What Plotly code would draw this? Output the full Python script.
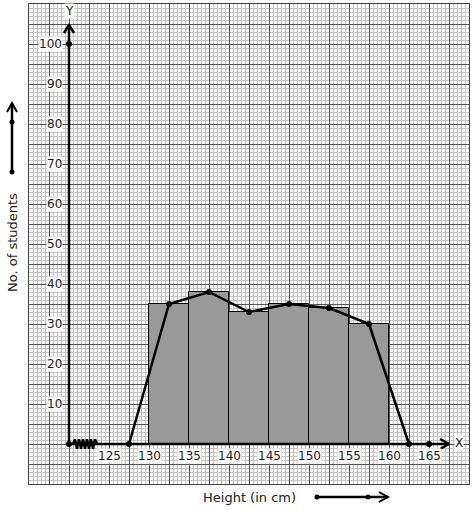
import plotly.graph_objects as go

# Data
class_mid = [132.5, 137.5, 142.5, 147.5, 152.5, 157.5]
students = [35, 38, 33, 35, 34, 30]
poly_x = [127.5, 132.5, 137.5, 142.5, 147.5, 152.5, 157.5, 162.5]
poly_y = [0, 35, 38, 33, 35, 34, 30, 0]
x_ticks = [125, 130, 135, 140, 145, 150, 155, 160, 165]
y_ticks = [10, 20, 30, 40, 50, 60, 70, 80, 90, 100]
class_width = 5

FONT = "DejaVu Sans"
TXT = "#1a1a1a"
fig = go.Figure()

# histogram bars
fig.add_trace(go.Bar(x=class_mid, y=students, width=class_width,
                     marker=dict(color="#999999", line=dict(color="black", width=1)),
                     hoverinfo="skip", showlegend=False))

# axes lines (broken x-axis with zigzag)
fig.add_trace(go.Scatter(x=[120, 120], y=[0, 104.75], mode="lines",
                         line=dict(color="black", width=2.5), showlegend=False, hoverinfo="skip"))
fig.add_trace(go.Scatter(x=[120, 167.5], y=[0, 0], mode="lines",
                         line=dict(color="black", width=2.5), showlegend=False, hoverinfo="skip"))
zx = [120.5 + 0.25 * i for i in range(13)]
zy = [0 if i in (0, 12) else (1.2 if i % 2 else -1.2) for i in range(13)]
fig.add_trace(go.Scatter(x=zx, y=zy, mode="lines",
                         line=dict(color="black", width=2.5), showlegend=False, hoverinfo="skip"))
# arrowheads
fig.add_trace(go.Scatter(x=[119.375, 120, 120.625], y=[102.75, 104.75, 102.75], mode="lines",
                         line=dict(color="black", width=2.5), showlegend=False, hoverinfo="skip"))
fig.add_trace(go.Scatter(x=[166.4, 167.5, 166.4], y=[1.25, 0, -1.25], mode="lines",
                         line=dict(color="black", width=2.5), showlegend=False, hoverinfo="skip"))
# axis dots
fig.add_trace(go.Scatter(x=[120, 120, 165], y=[0, 100, 0], mode="markers",
                         marker=dict(color="black", size=6), showlegend=False, hoverinfo="skip"))

# frequency polygon
fig.add_trace(go.Scatter(x=poly_x, y=poly_y, mode="lines+markers",
                         line=dict(color="black", width=2.5),
                         marker=dict(color="black", size=6), showlegend=False, hoverinfo="skip"))

def py(p):
    return (484 - p) / 480
def px(p):
    return (p - 29) / 440

annotations = []
for v in y_ticks:
    annotations.append(dict(x=119.25, y=v, xref="x", yref="y", text=str(v), showarrow=False,
                            xanchor="right", yanchor="middle", bgcolor="white", borderpad=0,
                            font=dict(family=FONT, size=12, color=TXT)))
for v in x_ticks:
    annotations.append(dict(x=v, y=-3, xref="x", yref="y", text=str(v), showarrow=False,
                            xanchor="center", yanchor="middle", bgcolor="white", borderpad=0,
                            font=dict(family=FONT, size=12, color=TXT)))
annotations.append(dict(x=120.1, y=108.25, xref="x", yref="y", text="Y", showarrow=False,
                        bgcolor="white", borderpad=0, font=dict(family=FONT, size=12, color=TXT)))
annotations.append(dict(x=168.7, y=0.25, xref="x", yref="y", text="X", showarrow=False,
                        bgcolor="white", borderpad=0, font=dict(family=FONT, size=12, color=TXT)))
annotations.append(dict(x=px(12), y=py(243), xref="paper", yref="paper", text="No. of students",
                        textangle=-90, showarrow=False, xanchor="center", yanchor="middle",
                        font=dict(family=FONT, size=13, color=TXT)))
annotations.append(dict(x=px(249), y=py(497), xref="paper", yref="paper", text="Height (in cm)",
                        showarrow=False, xanchor="center", yanchor="middle",
                        font=dict(family=FONT, size=13, color=TXT)))

shapes = []
lx = px(12)
# left side arrow
shapes.append(dict(type="line", xref="paper", yref="paper", x0=lx, x1=lx, y0=py(172), y1=py(104),
                   line=dict(color="black", width=2.5)))
shapes.append(dict(type="path", xref="paper", yref="paper",
                   path=f"M {px(7)},{py(112)} L {lx},{py(103)} L {px(17)},{py(112)}",
                   line=dict(color="black", width=2)))
for yy in (172, 122):
    shapes.append(dict(type="circle", xref="paper", yref="paper",
                       x0=px(9.5), x1=px(14.5), y0=py(yy + 2.5), y1=py(yy - 2.5),
                       fillcolor="black", line=dict(color="black", width=0)))
# bottom arrow
by = py(497)
shapes.append(dict(type="line", xref="paper", yref="paper", x0=px(317), x1=px(388), y0=by, y1=by,
                   line=dict(color="black", width=2.5)))
shapes.append(dict(type="path", xref="paper", yref="paper",
                   path=f"M {px(379)},{py(492)} L {px(388)},{by} L {px(379)},{py(502)}",
                   line=dict(color="black", width=2)))
for xx in (317, 368):
    shapes.append(dict(type="circle", xref="paper", yref="paper",
                       x0=px(xx - 2.5), x1=px(xx + 2.5), y0=py(499.5), y1=py(494.5),
                       fillcolor="black", line=dict(color="black", width=0)))

fig.update_layout(
    width=474, height=510,
    margin=dict(l=29, r=5, t=4, b=26),
    paper_bgcolor="white", plot_bgcolor="white",
    bargap=0,
    annotations=annotations, shapes=shapes,
    xaxis=dict(range=[115, 170], tick0=115, dtick=2.5, showgrid=True, gridcolor="#555555", gridwidth=1,
               minor=dict(dtick=0.5, tick0=115, showgrid=True, gridcolor="#c4c4c4", gridwidth=1),
               showticklabels=False, ticks="", zeroline=False,
               showline=True, linecolor="#444444", linewidth=1, mirror=True, fixedrange=True),
    yaxis=dict(range=[-10, 110], tick0=-10, dtick=5, showgrid=True, gridcolor="#555555", gridwidth=1,
               minor=dict(dtick=1, tick0=-10, showgrid=True, gridcolor="#c4c4c4", gridwidth=1),
               showticklabels=False, ticks="", zeroline=False,
               showline=True, linecolor="#444444", linewidth=1, mirror=True, fixedrange=True),
)

fig.write_html("out.html", config={"displayModeBar": False},
               post_script="document.body.style.margin='0';document.body.style.overflow='hidden';")
